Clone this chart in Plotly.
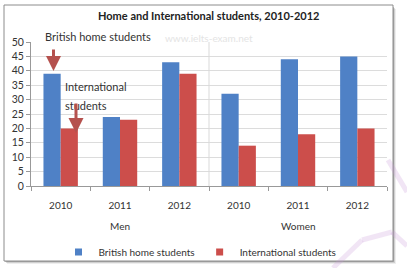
import plotly.graph_objects as go

groups = ["Men", "Men", "Men", "Women", "Women", "Women"]
years = ["2010", "2011", "2012", "2010", "2011", "2012"]
british = [39, 24, 43, 32, 44, 45]
international = [20, 23, 39, 14, 18, 20]
series_names = ["British home students", "International students"]
colors = ["#4F81C6", "#CC4E4B"]

cats = [f"{g} {y}" for g, y in zip(groups, years)]

W, H = 407, 268
L, R, T, B = 31, 20, 42, 82
pw, ph = W - L - R, H - T - B


def px(x):
    return (x - L) / pw


def py(y):
    return (H - B - y) / ph


fig = go.Figure()
for name, vals, c in zip(series_names, [british, international], colors):
    fig.add_trace(go.Bar(
        x=cats, y=vals, name=name, showlegend=False, legendgroup=name,
        marker=dict(color=c, line=dict(width=0)),
    ))
for name, c in zip(series_names, colors):
    fig.add_trace(go.Scatter(
        x=[None], y=[None], mode="markers", name=name, legendgroup=name,
        marker=dict(symbol="square", size=7, color=c),
    ))

shapes = []
# shadow
for i, op in enumerate([0.35, 0.2, 0.1]):
    shapes.append(dict(type="rect", xref="paper", yref="paper",
                       x0=px(5 + i), x1=px(394 + i), y0=py(7 + i), y1=py(262 + i),
                       line=dict(width=0), fillcolor=f"rgba(90,90,90,{op})", layer="below"))
shapes.append(dict(type="rect", xref="paper", yref="paper",
                   x0=px(4), x1=px(393), y0=py(5), y1=py(261),
                   line=dict(color="#8c8c8c", width=1), fillcolor="white", layer="below"))
# group separator
shapes.append(dict(type="line", xref="x", yref="paper", x0=2.5, x1=2.5, y0=0, y1=1,
                   line=dict(color="#d9d9d9", width=1)))
# faint watermark strokes
wm = "rgba(200,150,215,0.25)"
for (x0, y0, x1, y1) in [(388, 160, 407, 192), (333, 268, 362, 240), (362, 240, 392, 232),
                         (392, 232, 407, 246)]:
    shapes.append(dict(type="line", xref="paper", yref="paper",
                       x0=px(x0), y0=py(y0), x1=px(x1), y1=py(y1),
                       line=dict(color=wm, width=5)))

font = "Lato, Carlito, sans-serif"
annotations = [
    dict(text="<b>Home and International students, 2010-2012</b>", xref="paper", yref="paper",
         x=px(208), y=py(16), showarrow=False, font=dict(size=11, color="#222"),
         xanchor="center", yanchor="middle"),
    dict(text="www.ielts-exam.net", xref="paper", yref="paper", x=px(163), y=py(38),
         showarrow=False, font=dict(size=10, color="#e4e4e4"), xanchor="left", yanchor="middle"),
    dict(text="British home students", xref="paper", yref="paper", x=px(43), y=py(37),
         showarrow=False, font=dict(size=11, color="#333"), xanchor="left", yanchor="middle"),
    dict(text="International", xref="paper", yref="paper", x=px(63), y=py(86),
         showarrow=False, font=dict(size=11, color="#333"), xanchor="left", yanchor="middle"),
    dict(text="students", xref="paper", yref="paper", x=px(63), y=py(105),
         showarrow=False, font=dict(size=11, color="#333"), xanchor="left", yanchor="middle"),
    dict(text="", xref="paper", yref="paper", x=px(53.5), y=py(71), ax=0, ay=-23,
         showarrow=True, arrowhead=2, arrowsize=1,
         arrowwidth=3, arrowcolor="#B5514E"),
    dict(text="", xref="paper", yref="paper", x=px(76), y=py(133), ax=0, ay=-31,
         showarrow=True, arrowhead=2, arrowsize=1,
         arrowwidth=3, arrowcolor="#B5514E"),
]
# group labels under the middle category of each group
for g in dict.fromkeys(groups):
    members = [c for c, gg in zip(cats, groups) if gg == g]
    annotations.append(dict(text=g, xref="x", yref="paper", x=members[len(members) // 2],
                            y=py(226), showarrow=False, font=dict(size=10, color="#333"),
                            xanchor="center", yanchor="middle"))

fig.update_layout(
    width=W, height=H,
    margin=dict(l=L, r=R, t=T, b=B, autoexpand=False),
    paper_bgcolor="white", plot_bgcolor="rgba(0,0,0,0)",
    font=dict(family=font, size=10, color="#333"),
    barmode="group", bargap=0.42, bargroupgap=0,
    showlegend=True,
    legend=dict(orientation="h", x=px(200), xanchor="center", y=py(252), yanchor="middle",
                font=dict(size=10, color="#333"), itemwidth=30, traceorder="normal",
                bgcolor="rgba(0,0,0,0)"),
    shapes=shapes, annotations=annotations,
    xaxis=dict(type="category", categoryorder="array", categoryarray=cats,
               tickvals=cats, ticktext=years, tickson="boundaries",
               ticks="outside", ticklen=4,
               tickcolor="#999", showline=True, linecolor="#999", linewidth=1,
               ticklabelstandoff=10,
               tickfont=dict(size=10, color="#333"), showgrid=False),
    yaxis=dict(range=[0, 50], dtick=5, ticks="outside", ticklen=4, tickcolor="#999",
               showline=True, linecolor="#999", linewidth=1, gridcolor="#dcdcdc",
               tickfont=dict(size=10.5, color="#333"), zeroline=False),
)

fig.write_html("out.html")
